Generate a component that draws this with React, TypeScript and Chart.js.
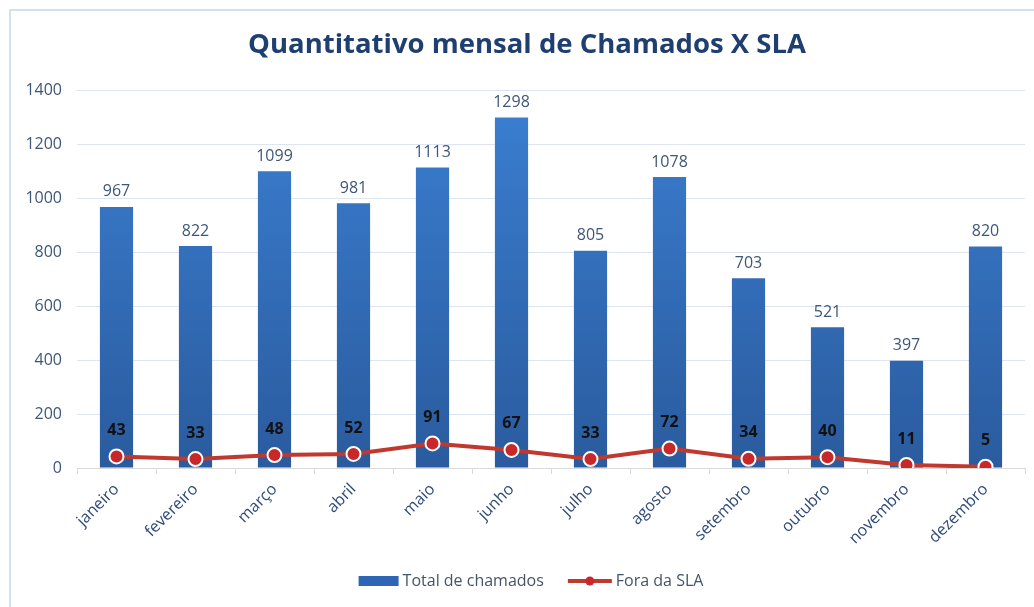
import React, { useEffect, useRef } from 'react';
import { Chart, registerables } from 'chart.js';
Chart.register(...registerables);

const months = ['janeiro', 'fevereiro', 'março', 'abril', 'maio', 'junho', 'julho', 'agosto', 'setembro', 'outubro', 'novembro', 'dezembro'];
const totalChamados = [967, 822, 1099, 981, 1113, 1298, 805, 1078, 703, 521, 397, 820];
const foraSLA = [43, 33, 48, 52, 91, 67, 33, 72, 34, 40, 11, 5];
const chartTitle = 'Quantitativo mensal de Chamados X SLA';
const seriesNames = ['Total de chamados', 'Fora da SLA'];
const yMax = 1400;
const yStep = 200;

const FONT = '"Open Sans", "Liberation Sans", sans-serif';
const BAR_TOP = '#3b7fd2';
const BAR_BOTTOM = '#2a5b9e';
const LINE_RED = '#c0392f';
const POINT_RED = '#c9282a';

export default function App() {
  const ref = useRef<HTMLCanvasElement>(null);
  useEffect(() => {
    const framePlugin = {
      id: 'frame',
      beforeDraw(chart: any) {
        const ctx = chart.ctx;
        ctx.save();
        ctx.fillStyle = '#ffffff';
        ctx.fillRect(0, 0, chart.width, chart.height);
        ctx.strokeStyle = '#d3e0f0';
        ctx.lineWidth = 2;
        ctx.strokeRect(10, 10, chart.width + 20, chart.height + 20);
        ctx.restore();
      },
    };
    const decoPlugin = {
      id: 'deco',
      afterDatasetsDraw(chart: any) {
        const ctx = chart.ctx;
        ctx.save();
        const barMeta = chart.getDatasetMeta(0);
        ctx.font = `16px ${FONT}`;
        ctx.fillStyle = '#3e5678';
        ctx.textAlign = 'center';
        ctx.textBaseline = 'bottom';
        barMeta.data.forEach((el: any, i: number) => {
          ctx.fillText(String(totalChamados[i]), el.x, el.y - 7);
        });
        const lineMeta = chart.getDatasetMeta(1);
        ctx.font = `bold 16px ${FONT}`;
        ctx.fillStyle = '#111111';
        ctx.textBaseline = 'middle';
        lineMeta.data.forEach((el: any, i: number) => {
          ctx.fillText(String(foraSLA[i]), el.x, el.y - 26);
        });
        ctx.restore();
      },
      afterDraw(chart: any) {
        const ctx = chart.ctx;
        ctx.save();
        ctx.font = `bold 27.5px ${FONT}`;
        ctx.fillStyle = '#1f3f70';
        ctx.textAlign = 'center';
        ctx.textBaseline = 'middle';
        ctx.fillText(chartTitle, 527, 45);
        ctx.font = `16px ${FONT}`;
        const w1 = ctx.measureText(seriesNames[0]).width;
        const w2 = ctx.measureText(seriesNames[1]).width;
        const sym1 = 40, sym2 = 44, gap = 4, between = 24;
        const total = sym1 + gap + w1 + between + sym2 + gap + w2;
        let x = 531 - total / 2;
        const y = 581;
        ctx.fillStyle = '#2e66b5';
        ctx.fillRect(x, y - 5, sym1, 10);
        x += sym1 + gap;
        ctx.fillStyle = '#44546a';
        ctx.textAlign = 'left';
        ctx.textBaseline = 'middle';
        ctx.fillText(seriesNames[0], x, y);
        x += w1 + between;
        ctx.strokeStyle = LINE_RED;
        ctx.lineWidth = 4;
        ctx.beginPath();
        ctx.moveTo(x, y);
        ctx.lineTo(x + sym2, y);
        ctx.stroke();
        ctx.fillStyle = POINT_RED;
        ctx.beginPath();
        ctx.arc(x + sym2 / 2, y, 4.5, 0, Math.PI * 2);
        ctx.fill();
        x += sym2 + gap;
        ctx.fillStyle = '#44546a';
        ctx.fillText(seriesNames[1], x, y);
        ctx.restore();
      },
    };

    const chart = new Chart(ref.current!, {
      type: 'bar',
      data: {
        labels: months,
        datasets: [
          {
            type: 'bar',
            label: seriesNames[0],
            data: totalChamados,
            order: 2,
            barPercentage: 0.84,
            categoryPercentage: 0.5,
            backgroundColor: (c: any) => {
              const area = c.chart.chartArea;
              if (!area) return BAR_TOP;
              const g = c.chart.ctx.createLinearGradient(0, area.top, 0, area.bottom);
              g.addColorStop(0, BAR_TOP);
              g.addColorStop(1, BAR_BOTTOM);
              return g;
            },
          },
          {
            type: 'line',
            label: seriesNames[1],
            data: foraSLA,
            order: 1,
            borderColor: LINE_RED,
            borderWidth: 4,
            pointRadius: 7,
            pointBackgroundColor: POINT_RED,
            pointBorderColor: '#ffffff',
            pointBorderWidth: 2,
            tension: 0,
          },
        ] as any,
      },
      options: {
        animation: false,
        responsive: true,
        maintainAspectRatio: false,
        layout: { padding: { top: 90, right: 9, bottom: 0, left: 0 } },
        plugins: {
          legend: { display: false },
          title: { display: false },
          tooltip: { enabled: false },
        },
        scales: {
          x: {
            afterFit: (s: any) => { s.height = 139; },
            grid: { display: true, drawOnChartArea: false, drawTicks: true, tickLength: 6, color: '#d9d9d9', offset: true },
            border: { display: true, color: '#d9d9d9' },
            ticks: {
              minRotation: 45,
              maxRotation: 45,
              padding: 6,
              color: '#2e4a7a',
              font: { family: FONT, size: 16 },
              autoSkip: false,
            },
          },
          y: {
            min: 0,
            max: yMax,
            afterFit: (s: any) => { s.width = 77; },
            grid: { color: '#dce5f1', drawTicks: false },
            border: { display: false },
            ticks: {
              stepSize: yStep,
              padding: 15,
              color: '#3e5678',
              font: { family: FONT, size: 16 },
              callback: (v: any) => String(v),
            },
          },
        },
      },
      plugins: [framePlugin, decoPlugin],
    });
    return () => chart.destroy();
  }, []);
  return (
    <div style={{ position: 'fixed', left: 0, top: 0, width: 1034, height: 607, background: '#fff' }}>
      <canvas ref={ref} />
    </div>
  );
}
